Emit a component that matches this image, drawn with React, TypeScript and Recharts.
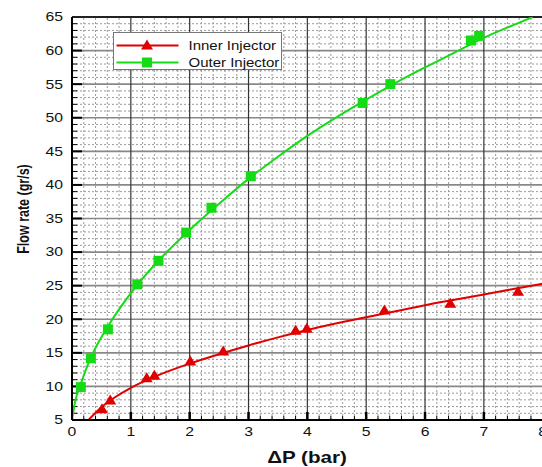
import React from 'react';
import { ComposedChart, Line, Scatter, XAxis, YAxis, ReferenceLine } from 'recharts';

const xTicks = [0, 1, 2, 3, 4, 5, 6, 7, 8];
const yTicks = [5, 10, 15, 20, 25, 30, 35, 40, 45, 50, 55, 60, 65];

const innerX = [0.51, 0.65, 1.27, 1.4, 2.01, 2.57, 3.8, 3.99, 5.31, 6.43, 7.58];
const innerY = [6.6, 7.9, 11.2, 11.6, 13.7, 15.2, 18.3, 18.6, 21.3, 22.3, 24.1];
const outerX = [0.15, 0.32, 0.61, 1.11, 1.47, 1.94, 2.37, 3.04, 4.94, 5.41, 6.78, 6.92];
const outerY = [9.9, 14.2, 18.5, 25.2, 28.7, 32.9, 36.6, 41.3, 52.2, 55.0, 61.5, 62.2];

const innerFitX = [0.28, 0.5, 0.75, 1, 1.5, 2, 2.5, 3, 3.5, 4, 4.5, 5, 5.5, 6, 6.5, 7, 7.5, 8];
const innerFitY = [5.0, 6.9, 8.5, 9.8, 11.8, 13.4, 14.8, 16.1, 17.3, 18.4, 19.4, 20.3, 21.2, 22.1, 22.9, 23.7, 24.5, 25.3];
const outerFitX = [0, 0.05, 0.15, 0.3, 0.6, 1, 1.5, 2, 2.5, 3, 3.5, 4, 4.5, 5, 5.5, 6, 6.5, 7, 7.5, 7.83];
const outerFitY = [5, 7.6, 10.4, 13.9, 18.8, 23.9, 29.0, 33.3, 37.2, 40.9, 44.2, 47.3, 50.1, 52.7, 55.2, 57.5, 59.7, 61.9, 63.8, 65];

const seriesNames = ['Inner Injector', 'Outer Injector'];
const RED = '#e00000';
const GREEN = '#14dc14';
const FONT = '"Liberation Sans", Arial, sans-serif';

const zip = (xs: number[], ys: number[]) => xs.map((x, i) => ({ x, y: ys[i] }));
const innerPts = zip(innerX, innerY);
const outerPts = zip(outerX, outerY);
const innerFit = zip(innerFitX, innerFitY);
const outerFit = zip(outerFitX, outerFitY);

const xMinor: number[] = [];
for (let i = 1; i < 40; i++) if (i % 5 !== 0) xMinor.push(Math.round(i * 2) / 10);
const yMinor: number[] = [];
for (let v = 6; v < 65; v++) if (v % 5 !== 0) yMinor.push(v);
const xMajorInner = xTicks.filter((v) => v > 0 && v < 8);
const yMajorInner = yTicks.filter((v) => v > 5 && v < 65);

const Tri = (props: any) => {
  const { cx, cy } = props;
  if (cx == null || cy == null) return null;
  return <polygon points={`${cx},${cy - 6} ${cx + 6},${cy + 4} ${cx - 6},${cy + 4}`} fill={RED} />;
};
const Sq = (props: any) => {
  const { cx, cy } = props;
  if (cx == null || cy == null) return null;
  return <rect x={cx - 5} y={cy - 5} width={10} height={10} fill={GREEN} />;
};

const YTick = (props: any) => {
  const { x, y, payload } = props;
  return (
    <text transform={`translate(${x},${y}) scale(1.26,1)`} textAnchor="end" dominantBaseline="central"
      fontSize={12.5} fontFamily={FONT} fill="#111">{payload.value}</text>
  );
};
const XTick = (props: any) => {
  const { x, y, payload } = props;
  return (
    <text transform={`translate(${x},${y + 12}) scale(1.26,1)`} textAnchor="middle" dominantBaseline="central"
      fontSize={12.5} fontFamily={FONT} fill="#111">{payload.value}</text>
  );
};

export default function App() {
  return (
    <div style={{ position: 'relative', width: 542, height: 467, overflow: 'hidden', background: '#fff' }}>
      <style>{'html,body{margin:0;padding:0;overflow:hidden;}'}</style>
      <div style={{ position: 'absolute', left: 8, top: 8, width: 540, height: 459 }}>
        <ComposedChart width={540} height={459} margin={{ top: 9, right: 5.3, left: 0, bottom: 0 }}>
          <XAxis type="number" dataKey="x" domain={[0, 8]} ticks={xTicks} allowDataOverflow
            tick={<XTick />} tickLine={false} tickSize={0} tickMargin={0} height={47}
            axisLine={{ stroke: '#000', strokeWidth: 2 }}
            label={{ content: () => (
              <text transform="translate(299,449) scale(1.25,1)" textAnchor="middle" dominantBaseline="central"
                fontSize={16.5} fontWeight="bold" fontFamily={FONT} fill="#111">ΔP (bar)</text>
            ) }} />
          <YAxis type="number" dataKey="y" domain={[5, 65]} ticks={yTicks} allowDataOverflow
            tick={<YTick />} tickLine={false} tickSize={0} tickMargin={9} width={64}
            axisLine={{ stroke: '#000', strokeWidth: 2 }}
            label={{ content: () => (
              <text transform="translate(15,201) rotate(-90) scale(1,1.3)" textAnchor="middle" dominantBaseline="central"
                fontSize={12.5} fontWeight="bold" fontFamily={FONT} fill="#111">Flow rate (gr/s)</text>
            ) }} />
          {xMinor.map((v) => (
            <ReferenceLine key={'xm' + v} x={v} stroke="#9a9a9a" strokeDasharray="2 2" strokeWidth={1} />
          ))}
          {yMinor.map((v) => (
            <ReferenceLine key={'ym' + v} y={v} stroke="#9a9a9a" strokeDasharray="2 2" strokeWidth={1} />
          ))}
          {yMajorInner.map((v) => (
            <ReferenceLine key={'yM' + v} y={v} stroke="#888" strokeWidth={1.6} />
          ))}
          {xMajorInner.map((v) => (
            <ReferenceLine key={'xM' + v} x={v} stroke="#333" strokeWidth={1.2} />
          ))}
          <ReferenceLine y={65} stroke="#222" strokeWidth={2} />
          {yMinor.map((v) => (
            <ReferenceLine key={'yt' + v} segment={[{ x: 0, y: v }, { x: 0.09, y: v }]} stroke="#000" strokeWidth={1} />
          ))}
          {yMajorInner.map((v) => (
            <ReferenceLine key={'yT' + v} segment={[{ x: 0, y: v }, { x: 0.17, y: v }]} stroke="#000" strokeWidth={2} />
          ))}
          {xMinor.map((v) => (
            <ReferenceLine key={'xt' + v} segment={[{ x: v, y: 5 }, { x: v, y: 5.6 }]} stroke="#000" strokeWidth={1} />
          ))}
          {xMajorInner.map((v) => (
            <ReferenceLine key={'xT' + v} segment={[{ x: v, y: 5 }, { x: v, y: 6.2 }]} stroke="#000" strokeWidth={2.5} />
          ))}
          <Line data={innerFit} dataKey="y" type="monotone" stroke={RED} strokeWidth={2} dot={false} isAnimationActive={false} />
          <Line data={outerFit} dataKey="y" type="monotone" stroke={GREEN} strokeWidth={2} dot={false} isAnimationActive={false} />
          <Scatter data={innerPts} dataKey="y" shape={<Tri />} isAnimationActive={false} />
          <Scatter data={outerPts} dataKey="y" shape={<Sq />} isAnimationActive={false} />
        </ComposedChart>
      </div>
      <svg width={170} height={39} style={{ position: 'absolute', left: 112.5, top: 31.5 }}>
        <rect x={0.5} y={0.5} width={168} height={37} fill="#fff" stroke="#777" strokeWidth={1} />
        <line x1={3.5} y1={13.5} x2={65.5} y2={13.5} stroke={RED} strokeWidth={2} />
        <polygon points="34,7.5 40,17.5 28,17.5" fill={RED} />
        <text transform="translate(75.5,13.5) scale(1.2,1)" dominantBaseline="central" fontSize={12.5} fontFamily={FONT} fill="#111">{seriesNames[0]}</text>
        <line x1={3.5} y1={30.5} x2={65.5} y2={30.5} stroke={GREEN} strokeWidth={2} />
        <rect x={29} y={25.5} width={10} height={10} fill={GREEN} />
        <text transform="translate(75.5,30.5) scale(1.2,1)" dominantBaseline="central" fontSize={12.5} fontFamily={FONT} fill="#111">{seriesNames[1]}</text>
      </svg>
    </div>
  );
}
